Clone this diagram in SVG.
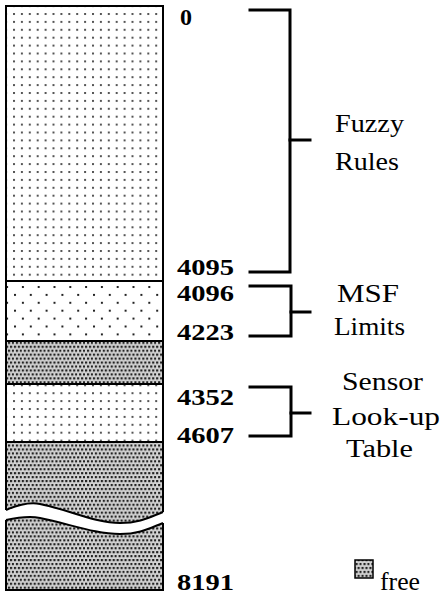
<svg xmlns="http://www.w3.org/2000/svg" width="440" height="598" viewBox="0 0 440 598">
<style>
.num{font-family:"Liberation Serif","Times New Roman",serif;font-weight:bold;font-size:23px;fill:#000}
.lbl{font-family:"Liberation Serif","Times New Roman",serif;font-size:26px;fill:#000}
.edge{fill:none;stroke:#000;stroke-width:2}
.br{fill:none;stroke:#000;stroke-width:3;stroke-linecap:square}
</style>
<defs>
<pattern id="dense" patternUnits="userSpaceOnUse" x="13" y="13" width="7.9" height="7.9">
<rect x="0" y="0" width="2" height="2" fill="#555"/>
</pattern>
<pattern id="sparse" patternUnits="userSpaceOnUse" x="14" y="286" width="15.8" height="15.8">
<rect x="7.9" y="0" width="2" height="2" fill="#222"/>
<rect x="0" y="7.9" width="2" height="2" fill="#222"/>
</pattern>
<pattern id="free" patternUnits="userSpaceOnUse" x="6" y="6" width="7.9" height="7.9">
<rect width="7.9" height="7.9" fill="#d4d4d4"/>
<rect x="0" y="0" width="2.2" height="2.2" fill="#222"/>
<rect x="3.95" y="0" width="2.2" height="2.2" fill="#222"/>
<rect x="1.97" y="3.95" width="2.2" height="2.2" fill="#222"/>
<rect x="5.92" y="3.95" width="2.2" height="2.2" fill="#222"/>
</pattern>
</defs>

<g id="memory-column">
<g id="fuzzy-rules-block">
<rect x="6" y="6" width="157" height="275" fill="url(#dense)"/>
</g>
<g id="msf-limits-block">
<rect x="6" y="281" width="157" height="60" fill="url(#sparse)"/>
</g>
<g id="free-block-1">
<rect x="6" y="341" width="157" height="43" fill="url(#free)"/>
</g>
<g id="sensor-block">
<rect x="6" y="384" width="157" height="58" fill="url(#dense)"/>
</g>
<g id="free-block-2">
<path d="M6,442 H163 V512 C150,517 140,523 120,523 C95,523 70,510 40,504 C30,502 20,504 6,510 Z" fill="url(#free)"/>
<path class="edge" d="M6,510 C20,504 30,502 40,504 C70,510 95,523 120,523 C140,523 150,517 163,512"/>
</g>
<g id="free-block-3">
<path d="M6,520 C20,517 30,516 40,518 C70,524 95,534 120,534 C140,534 150,528 163,523 V590 H6 Z" fill="url(#free)"/>
<path class="edge" d="M6,520 C20,517 30,516 40,518 C70,524 95,534 120,534 C140,534 150,528 163,523"/>
</g>
<g id="column-outline">
<path class="edge" d="M6,510 V6 H163 V512"/>
<path class="edge" d="M6,520 V590 H163 V523"/>
<line class="edge" x1="6" y1="281" x2="163" y2="281"/>
<line class="edge" x1="6" y1="341" x2="163" y2="341"/>
<line class="edge" x1="6" y1="384" x2="163" y2="384"/>
<line class="edge" x1="6" y1="442" x2="163" y2="442"/>
</g>
</g>

<g id="addresses">
<text class="num" x="180" y="25" textLength="12" lengthAdjust="spacingAndGlyphs">0</text>
<text class="num" x="177" y="275" textLength="57" lengthAdjust="spacingAndGlyphs">4095</text>
<text class="num" x="177" y="301" textLength="57" lengthAdjust="spacingAndGlyphs">4096</text>
<text class="num" x="177" y="340" textLength="57" lengthAdjust="spacingAndGlyphs">4223</text>
<text class="num" x="177" y="405" textLength="57" lengthAdjust="spacingAndGlyphs">4352</text>
<text class="num" x="177" y="443" textLength="57" lengthAdjust="spacingAndGlyphs">4607</text>
<text class="num" x="177" y="590" textLength="57" lengthAdjust="spacingAndGlyphs">8191</text>
</g>

<g id="connectors">
<path class="br" d="M250,10 H290 V272 H250"/>
<path class="br" d="M290,140 H310"/>
<path class="br" d="M250,286 H291 V336 H250"/>
<path class="br" d="M291,312 H310"/>
<path class="br" d="M250,387 H291 V436 H250"/>
<path class="br" d="M291,413 H310"/>
</g>

<g id="label-fuzzy-rules">
<text class="lbl" x="335" y="132" textLength="69" lengthAdjust="spacingAndGlyphs">Fuzzy</text>
<text class="lbl" x="335" y="170" textLength="64" lengthAdjust="spacingAndGlyphs">Rules</text>
</g>
<g id="label-msf-limits">
<text class="lbl" x="337" y="302" textLength="62" lengthAdjust="spacingAndGlyphs">MSF</text>
<text class="lbl" x="334" y="335" textLength="71" lengthAdjust="spacingAndGlyphs">Limits</text>
</g>
<g id="label-sensor">
<text class="lbl" x="342" y="390" textLength="81" lengthAdjust="spacingAndGlyphs">Sensor</text>
<text class="lbl" x="332" y="425" textLength="108" lengthAdjust="spacingAndGlyphs">Look-up</text>
<text class="lbl" x="346" y="457" textLength="67" lengthAdjust="spacingAndGlyphs">Table</text>
</g>
<g id="legend-free">
<rect x="355" y="560" width="18" height="18" fill="url(#free)" stroke="#000" stroke-width="1.5"/>
<text class="lbl" x="380" y="590" textLength="40" lengthAdjust="spacingAndGlyphs">free</text>
</g>
</svg>
